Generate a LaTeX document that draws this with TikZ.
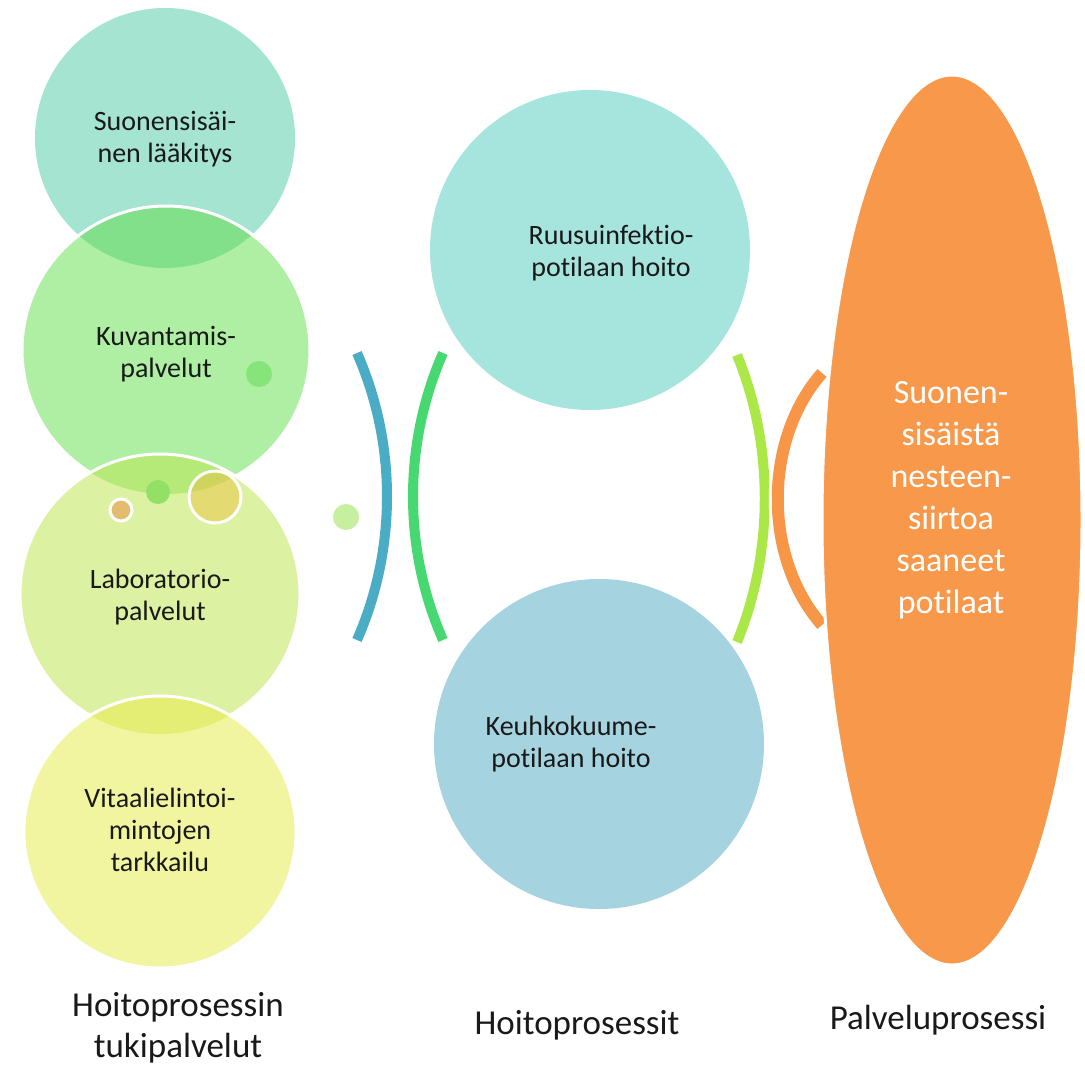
\documentclass[tikz,border=0pt]{standalone}
\usepackage{fontspec}
\setmainfont{Carlito}[Ligatures=NoCommon]
\usetikzlibrary{positioning,shapes.geometric}

\definecolor{lkfill}{HTML}{A4E4D0}
\definecolor{kvfill}{HTML}{AEEFA4}
\definecolor{lkkv}{HTML}{82E08A}
\definecolor{lbfill}{HTML}{DCF2A2}
\definecolor{kvlb}{HTML}{B6EA78}
\definecolor{vtfill}{HTML}{F1F5A0}
\definecolor{lbvt}{HTML}{E4EE74}
\definecolor{ruusufill}{HTML}{A6E4DE}
\definecolor{keuhkofill}{HTML}{A6D3E0}
\definecolor{palvfill}{HTML}{F7984A}
\definecolor{arcblue}{HTML}{4BACC6}
\definecolor{arcgreen}{HTML}{48D872}
\definecolor{arclime}{HTML}{ABE847}
\definecolor{arcorange}{HTML}{F79646}
\definecolor{dotgreen}{HTML}{86E47A}
\definecolor{dotmid}{HTML}{92E066}
\definecolor{dotamber}{HTML}{E5BC6E}
\definecolor{dotolive}{HTML}{E3DA72}
\definecolor{dotolivedk}{HTML}{CFD45C}
\definecolor{dotpale}{HTML}{C6F0A0}

\begin{document}
\begin{tikzpicture}[
  x=0.5pt, y=-0.5pt,
  every node/.style={align=center, inner sep=0pt},
  rim/.style={draw=white, line width=1.5pt},
  bubtext/.style={font=\fontsize{14}{16}\selectfont, text=black!90},
  captext/.style={font=\fontsize{17.5}{20.5}\selectfont, text=black!90},
  arcline/.style={line width=5pt}
]
\useasboundingbox (0,0) rectangle (1085,1067);
\coordinate (lk) at (165,138);
\coordinate (kv) at (166,350);
\coordinate (lb) at (160,594);
\coordinate (vt) at (160,832);
% support services, stacked and overlapping
\fill[lkfill] (lk) circle (130);
\fill[kvfill] (kv) circle (144);
\begin{scope}
  \clip (lk) circle (130);
  \fill[lkkv] (kv) circle (144);
\end{scope}
\draw[rim] (kv) circle (144);
\fill[lbfill] (lb) circle (140);
\begin{scope}
  \clip (kv) circle (144);
  \fill[kvlb] (lb) circle (140);
\end{scope}
\draw[rim] (lb) circle (140);
\fill[vtfill] (vt) circle (136);
\begin{scope}
  \clip (lb) circle (140);
  \fill[lbvt] (vt) circle (136);
\end{scope}
\draw[rim] (vt) circle (136);
% small dots
\fill[dotgreen] (259,374) circle (13);
\fill[dotmid] (158,492) circle (12);
\fill[dotamber] (121,510) circle (10);
\draw[rim] (121,510) circle (11);
\fill[dotolive] (215,497) circle (25);
\begin{scope}
  \clip (kv) circle (144);
  \fill[dotolivedk] (215,497) circle (25);
\end{scope}
\draw[rim] (215,497) circle (26);
\fill[dotpale] (346,517) circle (13);
% care processes
\fill[ruusufill] (590,250) circle (160);
\fill[keuhkofill] (599,744) circle (165);
% bracket arcs
\draw[arcline, arcblue] (357,353) .. controls (397,444) and (397,549) .. (357,640);
\draw[arcline, arcgreen] (443,353) .. controls (403,444) and (403,549) .. (443,640);
\draw[arcline, arclime] (737,355) .. controls (774,445) and (774,552) .. (737,642);
\draw[white, line width=9pt] (822,373) .. controls (763,440) and (763,558) .. (822,625);
\draw[arcorange, line width=6pt] (822,373) .. controls (763,440) and (763,558) .. (822,625);
% service process
\fill[palvfill] (952,520) ellipse (130 and 445);
\draw[rim] (952,520) ellipse (130 and 445);

\node[bubtext] (lktxt) at (165,139) {Suonensisäi-\\nen lääkitys};
\node[bubtext] (kvtxt) at (166,354) {Kuvantamis-\\palvelut};
\node[bubtext] (lbtxt) at (160,597) {Laboratorio-\\palvelut};
\node[bubtext] (vttxt) at (160,830) {Vitaalielintoi-\\mintojen\\tarkkailu};
\node[bubtext] (ruusutxt) at (611,253) {Ruusuinfektio-\\potilaan hoito};
\node[bubtext] (keuhkotxt) at (571,744) {Keuhkokuume-\\potilaan hoito};
\node[font=\fontsize{17}{21}\selectfont, text=white] (palvtxt) at (951,500)
  {Suonen-\\sisäistä\\nesteen-\\siirtoa\\saaneet\\potilaat};

\node[captext] (tuki) at (178,1028) {Hoitoprosessin\\tukipalvelut};
\node[captext] (hoito) at (577,1025) {Hoitoprosessit};
\node[captext] (palvelu) at (938,1020) {Palveluprosessi};
\end{tikzpicture}
\end{document}
